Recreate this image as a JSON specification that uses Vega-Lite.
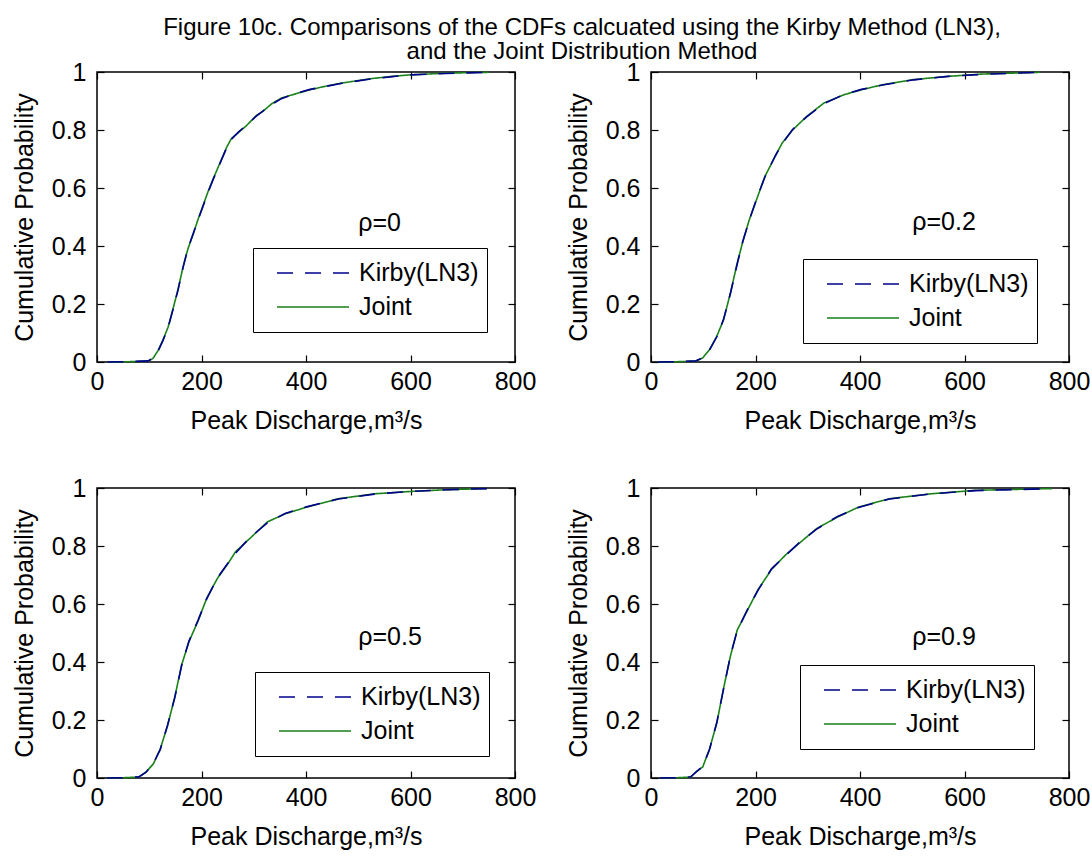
{
  "$schema": "https://vega.github.io/schema/vega-lite/v6.json",
  "background": "white",
  "padding": {"left": 11, "top": 16, "right": 0, "bottom": 4},
  "title": {
    "text": ["Figure 10c. Comparisons of the CDFs calcuated using the Kirby Method (LN3),", "and the Joint Distribution Method"],
    "fontSize": 24,
    "font": "Liberation Sans",
    "fontWeight": "normal",
    "color": "black",
    "anchor": "start",
    "align": "center",
    "dx": 485,
    "frame": "group",
    "lineHeight": 24,
    "offset": -5
  },
  "bounds": "flush",
  "spacing": {"column": 136, "row": 126},
  "columns": 2,
  "datasets": {
    "cdf": [
      {"rho":"0","method":"Joint","q":20,"p":0.0},{"rho":"0","method":"Joint","q":60,"p":0.001},{"rho":"0","method":"Joint","q":98,"p":0.003},{"rho":"0","method":"Joint","q":107,"p":0.012},{"rho":"0","method":"Joint","q":117,"p":0.04},{"rho":"0","method":"Joint","q":126,"p":0.075},{"rho":"0","method":"Joint","q":136,"p":0.12},{"rho":"0","method":"Joint","q":145,"p":0.18},{"rho":"0","method":"Joint","q":155,"p":0.25},{"rho":"0","method":"Joint","q":165,"p":0.33},{"rho":"0","method":"Joint","q":174,"p":0.39},{"rho":"0","method":"Joint","q":184,"p":0.44},{"rho":"0","method":"Joint","q":193,"p":0.49},{"rho":"0","method":"Joint","q":203,"p":0.54},{"rho":"0","method":"Joint","q":212,"p":0.585},{"rho":"0","method":"Joint","q":222,"p":0.63},{"rho":"0","method":"Joint","q":235,"p":0.685},{"rho":"0","method":"Joint","q":248,"p":0.74},{"rho":"0","method":"Joint","q":257,"p":0.77},{"rho":"0","method":"Joint","q":270,"p":0.79},{"rho":"0","method":"Joint","q":286,"p":0.815},{"rho":"0","method":"Joint","q":305,"p":0.85},{"rho":"0","method":"Joint","q":318,"p":0.865},{"rho":"0","method":"Joint","q":334,"p":0.89},{"rho":"0","method":"Joint","q":353,"p":0.91},{"rho":"0","method":"Joint","q":375,"p":0.922},{"rho":"0","method":"Joint","q":408,"p":0.939},{"rho":"0","method":"Joint","q":440,"p":0.952},{"rho":"0","method":"Joint","q":469,"p":0.962},{"rho":"0","method":"Joint","q":524,"p":0.977},{"rho":"0","method":"Joint","q":565,"p":0.985},{"rho":"0","method":"Joint","q":599,"p":0.99},{"rho":"0","method":"Joint","q":667,"p":0.996},{"rho":"0","method":"Joint","q":750,"p":0.999},
      {"rho":"0","method":"Kirby(LN3)","q":20,"p":0.0},{"rho":"0","method":"Kirby(LN3)","q":60,"p":0.001},{"rho":"0","method":"Kirby(LN3)","q":98,"p":0.004},{"rho":"0","method":"Kirby(LN3)","q":107,"p":0.013},{"rho":"0","method":"Kirby(LN3)","q":117,"p":0.038},{"rho":"0","method":"Kirby(LN3)","q":126,"p":0.073},{"rho":"0","method":"Kirby(LN3)","q":136,"p":0.118},{"rho":"0","method":"Kirby(LN3)","q":145,"p":0.178},{"rho":"0","method":"Kirby(LN3)","q":155,"p":0.248},{"rho":"0","method":"Kirby(LN3)","q":165,"p":0.328},{"rho":"0","method":"Kirby(LN3)","q":174,"p":0.392},{"rho":"0","method":"Kirby(LN3)","q":184,"p":0.442},{"rho":"0","method":"Kirby(LN3)","q":193,"p":0.488},{"rho":"0","method":"Kirby(LN3)","q":203,"p":0.537},{"rho":"0","method":"Kirby(LN3)","q":212,"p":0.583},{"rho":"0","method":"Kirby(LN3)","q":222,"p":0.628},{"rho":"0","method":"Kirby(LN3)","q":235,"p":0.683},{"rho":"0","method":"Kirby(LN3)","q":248,"p":0.738},{"rho":"0","method":"Kirby(LN3)","q":257,"p":0.768},{"rho":"0","method":"Kirby(LN3)","q":270,"p":0.792},{"rho":"0","method":"Kirby(LN3)","q":286,"p":0.817},{"rho":"0","method":"Kirby(LN3)","q":305,"p":0.848},{"rho":"0","method":"Kirby(LN3)","q":318,"p":0.866},{"rho":"0","method":"Kirby(LN3)","q":334,"p":0.888},{"rho":"0","method":"Kirby(LN3)","q":353,"p":0.908},{"rho":"0","method":"Kirby(LN3)","q":375,"p":0.923},{"rho":"0","method":"Kirby(LN3)","q":408,"p":0.94},{"rho":"0","method":"Kirby(LN3)","q":440,"p":0.951},{"rho":"0","method":"Kirby(LN3)","q":469,"p":0.961},{"rho":"0","method":"Kirby(LN3)","q":524,"p":0.976},{"rho":"0","method":"Kirby(LN3)","q":565,"p":0.984},{"rho":"0","method":"Kirby(LN3)","q":599,"p":0.99},{"rho":"0","method":"Kirby(LN3)","q":667,"p":0.995},{"rho":"0","method":"Kirby(LN3)","q":750,"p":0.999},

      {"rho":"0.2","method":"Joint","q":13,"p":0.0},{"rho":"0.2","method":"Joint","q":50,"p":0.001},{"rho":"0.2","method":"Joint","q":86,"p":0.003},{"rho":"0.2","method":"Joint","q":99,"p":0.014},{"rho":"0.2","method":"Joint","q":112,"p":0.043},{"rho":"0.2","method":"Joint","q":126,"p":0.089},{"rho":"0.2","method":"Joint","q":139,"p":0.146},{"rho":"0.2","method":"Joint","q":152,"p":0.238},{"rho":"0.2","method":"Joint","q":165,"p":0.341},{"rho":"0.2","method":"Joint","q":175,"p":0.41},{"rho":"0.2","method":"Joint","q":188,"p":0.49},{"rho":"0.2","method":"Joint","q":202,"p":0.56},{"rho":"0.2","method":"Joint","q":218,"p":0.64},{"rho":"0.2","method":"Joint","q":238,"p":0.71},{"rho":"0.2","method":"Joint","q":251,"p":0.755},{"rho":"0.2","method":"Joint","q":271,"p":0.8},{"rho":"0.2","method":"Joint","q":298,"p":0.847},{"rho":"0.2","method":"Joint","q":331,"p":0.893},{"rho":"0.2","method":"Joint","q":370,"p":0.922},{"rho":"0.2","method":"Joint","q":403,"p":0.939},{"rho":"0.2","method":"Joint","q":443,"p":0.956},{"rho":"0.2","method":"Joint","q":503,"p":0.974},{"rho":"0.2","method":"Joint","q":569,"p":0.985},{"rho":"0.2","method":"Joint","q":635,"p":0.993},{"rho":"0.2","method":"Joint","q":744,"p":0.999},
      {"rho":"0.2","method":"Kirby(LN3)","q":13,"p":0.0},{"rho":"0.2","method":"Kirby(LN3)","q":50,"p":0.001},{"rho":"0.2","method":"Kirby(LN3)","q":86,"p":0.004},{"rho":"0.2","method":"Kirby(LN3)","q":99,"p":0.015},{"rho":"0.2","method":"Kirby(LN3)","q":112,"p":0.041},{"rho":"0.2","method":"Kirby(LN3)","q":126,"p":0.087},{"rho":"0.2","method":"Kirby(LN3)","q":139,"p":0.148},{"rho":"0.2","method":"Kirby(LN3)","q":152,"p":0.236},{"rho":"0.2","method":"Kirby(LN3)","q":165,"p":0.338},{"rho":"0.2","method":"Kirby(LN3)","q":175,"p":0.412},{"rho":"0.2","method":"Kirby(LN3)","q":188,"p":0.488},{"rho":"0.2","method":"Kirby(LN3)","q":202,"p":0.562},{"rho":"0.2","method":"Kirby(LN3)","q":218,"p":0.638},{"rho":"0.2","method":"Kirby(LN3)","q":238,"p":0.712},{"rho":"0.2","method":"Kirby(LN3)","q":251,"p":0.753},{"rho":"0.2","method":"Kirby(LN3)","q":271,"p":0.802},{"rho":"0.2","method":"Kirby(LN3)","q":298,"p":0.845},{"rho":"0.2","method":"Kirby(LN3)","q":331,"p":0.891},{"rho":"0.2","method":"Kirby(LN3)","q":370,"p":0.923},{"rho":"0.2","method":"Kirby(LN3)","q":403,"p":0.94},{"rho":"0.2","method":"Kirby(LN3)","q":443,"p":0.955},{"rho":"0.2","method":"Kirby(LN3)","q":503,"p":0.973},{"rho":"0.2","method":"Kirby(LN3)","q":569,"p":0.985},{"rho":"0.2","method":"Kirby(LN3)","q":635,"p":0.992},{"rho":"0.2","method":"Kirby(LN3)","q":744,"p":0.999},

      {"rho":"0.5","method":"Joint","q":19,"p":0.0},{"rho":"0.5","method":"Joint","q":50,"p":0.001},{"rho":"0.5","method":"Joint","q":80,"p":0.003},{"rho":"0.5","method":"Joint","q":94,"p":0.021},{"rho":"0.5","method":"Joint","q":108,"p":0.049},{"rho":"0.5","method":"Joint","q":121,"p":0.1},{"rho":"0.5","method":"Joint","q":135,"p":0.18},{"rho":"0.5","method":"Joint","q":149,"p":0.28},{"rho":"0.5","method":"Joint","q":162,"p":0.39},{"rho":"0.5","method":"Joint","q":176,"p":0.47},{"rho":"0.5","method":"Joint","q":193,"p":0.54},{"rho":"0.5","method":"Joint","q":210,"p":0.62},{"rho":"0.5","method":"Joint","q":231,"p":0.69},{"rho":"0.5","method":"Joint","q":251,"p":0.74},{"rho":"0.5","method":"Joint","q":265,"p":0.78},{"rho":"0.5","method":"Joint","q":292,"p":0.825},{"rho":"0.5","method":"Joint","q":326,"p":0.883},{"rho":"0.5","method":"Joint","q":360,"p":0.911},{"rho":"0.5","method":"Joint","q":401,"p":0.934},{"rho":"0.5","method":"Joint","q":462,"p":0.963},{"rho":"0.5","method":"Joint","q":531,"p":0.98},{"rho":"0.5","method":"Joint","q":599,"p":0.988},{"rho":"0.5","method":"Joint","q":667,"p":0.994},{"rho":"0.5","method":"Joint","q":746,"p":0.998},
      {"rho":"0.5","method":"Kirby(LN3)","q":19,"p":0.0},{"rho":"0.5","method":"Kirby(LN3)","q":50,"p":0.001},{"rho":"0.5","method":"Kirby(LN3)","q":80,"p":0.004},{"rho":"0.5","method":"Kirby(LN3)","q":94,"p":0.02},{"rho":"0.5","method":"Kirby(LN3)","q":108,"p":0.051},{"rho":"0.5","method":"Kirby(LN3)","q":121,"p":0.098},{"rho":"0.5","method":"Kirby(LN3)","q":135,"p":0.182},{"rho":"0.5","method":"Kirby(LN3)","q":149,"p":0.278},{"rho":"0.5","method":"Kirby(LN3)","q":162,"p":0.388},{"rho":"0.5","method":"Kirby(LN3)","q":176,"p":0.472},{"rho":"0.5","method":"Kirby(LN3)","q":193,"p":0.542},{"rho":"0.5","method":"Kirby(LN3)","q":210,"p":0.618},{"rho":"0.5","method":"Kirby(LN3)","q":231,"p":0.692},{"rho":"0.5","method":"Kirby(LN3)","q":251,"p":0.742},{"rho":"0.5","method":"Kirby(LN3)","q":265,"p":0.775},{"rho":"0.5","method":"Kirby(LN3)","q":292,"p":0.828},{"rho":"0.5","method":"Kirby(LN3)","q":326,"p":0.88},{"rho":"0.5","method":"Kirby(LN3)","q":360,"p":0.912},{"rho":"0.5","method":"Kirby(LN3)","q":401,"p":0.935},{"rho":"0.5","method":"Kirby(LN3)","q":462,"p":0.962},{"rho":"0.5","method":"Kirby(LN3)","q":531,"p":0.979},{"rho":"0.5","method":"Kirby(LN3)","q":599,"p":0.988},{"rho":"0.5","method":"Kirby(LN3)","q":667,"p":0.994},{"rho":"0.5","method":"Kirby(LN3)","q":746,"p":0.998},

      {"rho":"0.9","method":"Joint","q":17,"p":0.0},{"rho":"0.9","method":"Joint","q":50,"p":0.001},{"rho":"0.9","method":"Joint","q":76,"p":0.003},{"rho":"0.9","method":"Joint","q":86,"p":0.021},{"rho":"0.9","method":"Joint","q":99,"p":0.038},{"rho":"0.9","method":"Joint","q":112,"p":0.1},{"rho":"0.9","method":"Joint","q":126,"p":0.19},{"rho":"0.9","method":"Joint","q":139,"p":0.31},{"rho":"0.9","method":"Joint","q":152,"p":0.42},{"rho":"0.9","method":"Joint","q":165,"p":0.51},{"rho":"0.9","method":"Joint","q":185,"p":0.58},{"rho":"0.9","method":"Joint","q":205,"p":0.65},{"rho":"0.9","method":"Joint","q":231,"p":0.72},{"rho":"0.9","method":"Joint","q":258,"p":0.77},{"rho":"0.9","method":"Joint","q":284,"p":0.81},{"rho":"0.9","method":"Joint","q":317,"p":0.86},{"rho":"0.9","method":"Joint","q":357,"p":0.9},{"rho":"0.9","method":"Joint","q":397,"p":0.934},{"rho":"0.9","method":"Joint","q":456,"p":0.963},{"rho":"0.9","method":"Joint","q":536,"p":0.98},{"rho":"0.9","method":"Joint","q":621,"p":0.992},{"rho":"0.9","method":"Joint","q":767,"p":0.998},
      {"rho":"0.9","method":"Kirby(LN3)","q":17,"p":0.0},{"rho":"0.9","method":"Kirby(LN3)","q":50,"p":0.001},{"rho":"0.9","method":"Kirby(LN3)","q":76,"p":0.004},{"rho":"0.9","method":"Kirby(LN3)","q":86,"p":0.02},{"rho":"0.9","method":"Kirby(LN3)","q":99,"p":0.04},{"rho":"0.9","method":"Kirby(LN3)","q":112,"p":0.098},{"rho":"0.9","method":"Kirby(LN3)","q":126,"p":0.192},{"rho":"0.9","method":"Kirby(LN3)","q":139,"p":0.308},{"rho":"0.9","method":"Kirby(LN3)","q":152,"p":0.422},{"rho":"0.9","method":"Kirby(LN3)","q":165,"p":0.508},{"rho":"0.9","method":"Kirby(LN3)","q":185,"p":0.582},{"rho":"0.9","method":"Kirby(LN3)","q":205,"p":0.648},{"rho":"0.9","method":"Kirby(LN3)","q":231,"p":0.722},{"rho":"0.9","method":"Kirby(LN3)","q":258,"p":0.768},{"rho":"0.9","method":"Kirby(LN3)","q":284,"p":0.812},{"rho":"0.9","method":"Kirby(LN3)","q":317,"p":0.858},{"rho":"0.9","method":"Kirby(LN3)","q":357,"p":0.902},{"rho":"0.9","method":"Kirby(LN3)","q":397,"p":0.933},{"rho":"0.9","method":"Kirby(LN3)","q":456,"p":0.962},{"rho":"0.9","method":"Kirby(LN3)","q":536,"p":0.98},{"rho":"0.9","method":"Kirby(LN3)","q":621,"p":0.991},{"rho":"0.9","method":"Kirby(LN3)","q":767,"p":0.998}
    ]
  },
  "data": {"name": "cdf"},
  "resolve": {
    "scale": {"color": "independent", "strokeDash": "independent"},
    "legend": {"color": "independent", "strokeDash": "independent"}
  },
  "concat": [
    {
      "width": 418, "height": 290,
      "resolve": {"axis": {"x": "independent", "y": "independent"}},
      "layer": [
        {
          "transform": [{"filter": "datum.rho == '0' && datum.method == 'Joint'"}],
          "mark": {"type": "line", "strokeWidth": 1.6},
          "encoding": {
            "x": {"field": "q", "type": "quantitative", "scale": {"domain": [0, 800], "nice": false}, "axis": {"orient": "bottom", "values": [0, 200, 400, 600, 800], "format": "d", "title": "Peak Discharge,m³/s"}},
            "y": {"field": "p", "type": "quantitative", "scale": {"domain": [0, 1], "nice": false}, "axis": {"orient": "left", "values": [0, 0.2, 0.4, 0.6, 0.8, 1], "format": "~g", "title": "Cumulative Probability"}},
            "color": {"field": "method", "type": "nominal", "scale": {"domain": ["Kirby(LN3)", "Joint"], "range": ["#00008c", "#1a801a"]}, "legend": {"orient": "none", "legendX": 156, "legendY": 176}},
            "strokeDash": {"field": "method", "type": "nominal", "scale": {"domain": ["Kirby(LN3)", "Joint"], "range": [[16, 12], [1, 0]]}, "legend": {"orient": "none", "legendX": 156, "legendY": 176}}
          }
        },
        {
          "transform": [{"filter": "datum.rho == '0' && datum.method == 'Kirby(LN3)'"}],
          "mark": {"type": "line", "strokeWidth": 1.6},
          "encoding": {
            "x": {"field": "q", "type": "quantitative", "axis": {"orient": "top", "values": [0, 200, 400, 600, 800], "labels": false, "title": null}},
            "y": {"field": "p", "type": "quantitative", "axis": {"orient": "right", "values": [0, 0.2, 0.4, 0.6, 0.8, 1], "labels": false, "title": null}},
            "color": {"field": "method", "type": "nominal", "legend": {"orient": "none", "legendX": 156, "legendY": 176}},
            "strokeDash": {"field": "method", "type": "nominal", "legend": {"orient": "none", "legendX": 156, "legendY": 176}}
          }
        },
        {
          "data": {"values": [{"label": "ρ=0"}]},
          "mark": {"type": "text", "align": "left", "baseline": "middle", "fontSize": 25, "font": "Liberation Sans", "color": "black"},
          "encoding": {
            "x": {"datum": 500, "type": "quantitative", "axis": null},
            "y": {"datum": 0.48, "type": "quantitative", "axis": null},
            "text": {"field": "label", "type": "nominal"}
          }
        }
      ]
    },
    {
      "width": 418, "height": 290,
      "resolve": {"axis": {"x": "independent", "y": "independent"}},
      "layer": [
        {
          "transform": [{"filter": "datum.rho == '0.2' && datum.method == 'Joint'"}],
          "mark": {"type": "line", "strokeWidth": 1.6},
          "encoding": {
            "x": {"field": "q", "type": "quantitative", "scale": {"domain": [0, 800], "nice": false}, "axis": {"orient": "bottom", "values": [0, 200, 400, 600, 800], "format": "d", "title": "Peak Discharge,m³/s"}},
            "y": {"field": "p", "type": "quantitative", "scale": {"domain": [0, 1], "nice": false}, "axis": {"orient": "left", "values": [0, 0.2, 0.4, 0.6, 0.8, 1], "format": "~g", "title": "Cumulative Probability"}},
            "color": {"field": "method", "type": "nominal", "scale": {"domain": ["Kirby(LN3)", "Joint"], "range": ["#00008c", "#1a801a"]}, "legend": {"orient": "none", "legendX": 152, "legendY": 187}},
            "strokeDash": {"field": "method", "type": "nominal", "scale": {"domain": ["Kirby(LN3)", "Joint"], "range": [[16, 12], [1, 0]]}, "legend": {"orient": "none", "legendX": 152, "legendY": 187}}
          }
        },
        {
          "transform": [{"filter": "datum.rho == '0.2' && datum.method == 'Kirby(LN3)'"}],
          "mark": {"type": "line", "strokeWidth": 1.6},
          "encoding": {
            "x": {"field": "q", "type": "quantitative", "axis": {"orient": "top", "values": [0, 200, 400, 600, 800], "labels": false, "title": null}},
            "y": {"field": "p", "type": "quantitative", "axis": {"orient": "right", "values": [0, 0.2, 0.4, 0.6, 0.8, 1], "labels": false, "title": null}},
            "color": {"field": "method", "type": "nominal", "legend": {"orient": "none", "legendX": 152, "legendY": 187}},
            "strokeDash": {"field": "method", "type": "nominal", "legend": {"orient": "none", "legendX": 152, "legendY": 187}}
          }
        },
        {
          "data": {"values": [{"label": "ρ=0.2"}]},
          "mark": {"type": "text", "align": "left", "baseline": "middle", "fontSize": 25, "font": "Liberation Sans", "color": "black"},
          "encoding": {
            "x": {"datum": 500, "type": "quantitative", "axis": null},
            "y": {"datum": 0.483, "type": "quantitative", "axis": null},
            "text": {"field": "label", "type": "nominal"}
          }
        }
      ]
    },
    {
      "width": 418, "height": 290,
      "resolve": {"axis": {"x": "independent", "y": "independent"}},
      "layer": [
        {
          "transform": [{"filter": "datum.rho == '0.5' && datum.method == 'Joint'"}],
          "mark": {"type": "line", "strokeWidth": 1.6},
          "encoding": {
            "x": {"field": "q", "type": "quantitative", "scale": {"domain": [0, 800], "nice": false}, "axis": {"orient": "bottom", "values": [0, 200, 400, 600, 800], "format": "d", "title": "Peak Discharge,m³/s"}},
            "y": {"field": "p", "type": "quantitative", "scale": {"domain": [0, 1], "nice": false}, "axis": {"orient": "left", "values": [0, 0.2, 0.4, 0.6, 0.8, 1], "format": "~g", "title": "Cumulative Probability"}},
            "color": {"field": "method", "type": "nominal", "scale": {"domain": ["Kirby(LN3)", "Joint"], "range": ["#00008c", "#1a801a"]}, "legend": {"orient": "none", "legendX": 158, "legendY": 184}},
            "strokeDash": {"field": "method", "type": "nominal", "scale": {"domain": ["Kirby(LN3)", "Joint"], "range": [[16, 12], [1, 0]]}, "legend": {"orient": "none", "legendX": 158, "legendY": 184}}
          }
        },
        {
          "transform": [{"filter": "datum.rho == '0.5' && datum.method == 'Kirby(LN3)'"}],
          "mark": {"type": "line", "strokeWidth": 1.6},
          "encoding": {
            "x": {"field": "q", "type": "quantitative", "axis": {"orient": "top", "values": [0, 200, 400, 600, 800], "labels": false, "title": null}},
            "y": {"field": "p", "type": "quantitative", "axis": {"orient": "right", "values": [0, 0.2, 0.4, 0.6, 0.8, 1], "labels": false, "title": null}},
            "color": {"field": "method", "type": "nominal", "legend": {"orient": "none", "legendX": 158, "legendY": 184}},
            "strokeDash": {"field": "method", "type": "nominal", "legend": {"orient": "none", "legendX": 158, "legendY": 184}}
          }
        },
        {
          "data": {"values": [{"label": "ρ=0.5"}]},
          "mark": {"type": "text", "align": "left", "baseline": "middle", "fontSize": 25, "font": "Liberation Sans", "color": "black"},
          "encoding": {
            "x": {"datum": 500, "type": "quantitative", "axis": null},
            "y": {"datum": 0.486, "type": "quantitative", "axis": null},
            "text": {"field": "label", "type": "nominal"}
          }
        }
      ]
    },
    {
      "width": 418, "height": 290,
      "resolve": {"axis": {"x": "independent", "y": "independent"}},
      "layer": [
        {
          "transform": [{"filter": "datum.rho == '0.9' && datum.method == 'Joint'"}],
          "mark": {"type": "line", "strokeWidth": 1.6},
          "encoding": {
            "x": {"field": "q", "type": "quantitative", "scale": {"domain": [0, 800], "nice": false}, "axis": {"orient": "bottom", "values": [0, 200, 400, 600, 800], "format": "d", "title": "Peak Discharge,m³/s"}},
            "y": {"field": "p", "type": "quantitative", "scale": {"domain": [0, 1], "nice": false}, "axis": {"orient": "left", "values": [0, 0.2, 0.4, 0.6, 0.8, 1], "format": "~g", "title": "Cumulative Probability"}},
            "color": {"field": "method", "type": "nominal", "scale": {"domain": ["Kirby(LN3)", "Joint"], "range": ["#00008c", "#1a801a"]}, "legend": {"orient": "none", "legendX": 149, "legendY": 177}},
            "strokeDash": {"field": "method", "type": "nominal", "scale": {"domain": ["Kirby(LN3)", "Joint"], "range": [[16, 12], [1, 0]]}, "legend": {"orient": "none", "legendX": 149, "legendY": 177}}
          }
        },
        {
          "transform": [{"filter": "datum.rho == '0.9' && datum.method == 'Kirby(LN3)'"}],
          "mark": {"type": "line", "strokeWidth": 1.6},
          "encoding": {
            "x": {"field": "q", "type": "quantitative", "axis": {"orient": "top", "values": [0, 200, 400, 600, 800], "labels": false, "title": null}},
            "y": {"field": "p", "type": "quantitative", "axis": {"orient": "right", "values": [0, 0.2, 0.4, 0.6, 0.8, 1], "labels": false, "title": null}},
            "color": {"field": "method", "type": "nominal", "legend": {"orient": "none", "legendX": 149, "legendY": 177}},
            "strokeDash": {"field": "method", "type": "nominal", "legend": {"orient": "none", "legendX": 149, "legendY": 177}}
          }
        },
        {
          "data": {"values": [{"label": "ρ=0.9"}]},
          "mark": {"type": "text", "align": "left", "baseline": "middle", "fontSize": 25, "font": "Liberation Sans", "color": "black"},
          "encoding": {
            "x": {"datum": 500, "type": "quantitative", "axis": null},
            "y": {"datum": 0.486, "type": "quantitative", "axis": null},
            "text": {"field": "label", "type": "nominal"}
          }
        }
      ]
    }
  ],
  "config": {
    "font": "Liberation Sans",
    "view": {"stroke": "black", "strokeWidth": 1.5},
    "axis": {
      "grid": false,
      "domain": false,
      "ticks": true,
      "tickColor": "black",
      "tickSize": -7,
      "tickWidth": 1.2,
      "labelFont": "Liberation Sans",
      "labelFontSize": 25,
      "labelColor": "black",
      "labelFlush": false,
      "labelOverlap": false,
      "titleFont": "Liberation Sans",
      "titleFontSize": 25,
      "titleFontWeight": "normal",
      "titleColor": "black"
    },
    "axisX": {"titlePadding": 14, "labelPadding": 14},
    "axisY": {"titlePadding": 14, "labelPadding": 18},
    "legend": {
      "title": null,
      "direction": "vertical",
      "symbolType": "stroke",
      "symbolSize": 5184,
      "symbolStrokeWidth": 1.6,
      "symbolOffset": 15,
      "labelOffset": 9,
      "labelFont": "Liberation Sans",
      "labelFontSize": 25,
      "labelColor": "black",
      "labelLimit": 300,
      "clipHeight": 34,
      "rowPadding": 0,
      "padding": 8,
      "strokeColor": "black",
      "fillColor": "white"
    }
  }
}
